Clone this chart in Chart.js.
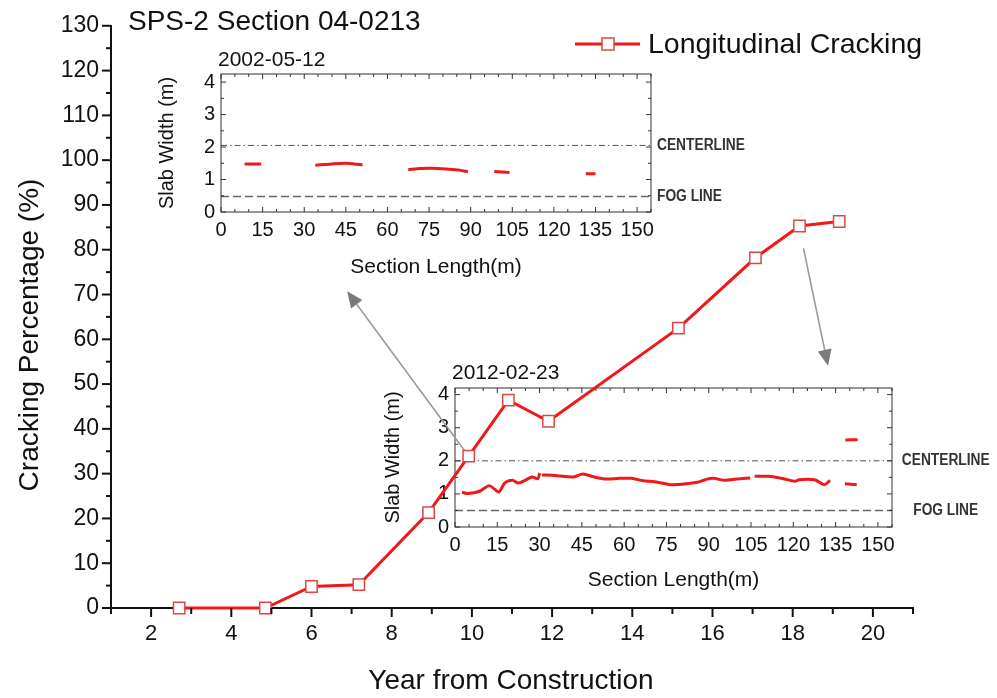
<!DOCTYPE html>
<html>
<head>
<meta charset="utf-8">
<script src="https://cdn.jsdelivr.net/npm/chart.js@4.4.0/dist/chart.umd.min.js"></script>
<style>
  html, body { margin: 0; padding: 0; background: #fff; }
  #wrap { position: relative; width: 997px; height: 698px; overflow: hidden; background: #fff; }
  canvas { position: absolute; }
</style>
</head>
<body>
<div id="wrap">
  <canvas id="inset1" width="620" height="245" style="left:140px;top:40px"></canvas>
  <canvas id="inset2" width="617" height="240" style="left:380px;top:355px"></canvas>
  <canvas id="main" width="997" height="698" style="left:0;top:0"></canvas>
</div>
<script>
// main series: longitudinal cracking vs. age
const years = [2.7, 4.85, 6.0, 7.18, 8.92, 9.92, 10.91, 11.91, 15.15, 17.07, 18.17, 19.16];
const crackPct = [0, 0, 4.8, 5.2, 21.3, 33.9, 46.4, 41.7, 62.5, 78.2, 85.3, 86.3];
const yearTicks = [2, 4, 6, 8, 10, 12, 14, 16, 18, 20];

// arrows from survey points to the crack maps
const arrowFrom = [[9.92, 33.9], [18.27, 80.3]];
const arrowTo = [[6.89, 70.7], [18.88, 54.1]];

// crack map axes
const lengthTicks = [0, 15, 30, 45, 60, 75, 90, 105, 120, 135, 150];
const widthTicks = [0, 1, 2, 3, 4];

// crack map 2002-05-12 (null = break between cracks)
const earlyX = [8.5, 14.5, null, 34, 40, 45, 48, 51, null, 67.5, 72, 76, 82, 86, 89, null, 98.5, 104, null, 131.5, 135];
const earlyY = [1.48, 1.48, null, 1.44, 1.48, 1.50, 1.48, 1.45, null, 1.30, 1.34, 1.35, 1.32, 1.29, 1.24, null, 1.25, 1.22, null, 1.18, 1.18];

// crack map 2012-02-23
const lateX = [2.5, 4.6, 8.7, 12.1, 14.2, 15.6, 17.7, 20.4, 22.5, 25.3, 27.3, 29.4, 30.0, null,
  30.8, 32.2, 36.3, 41.8, 45.3, 49.4, 53.6, 58.4, 62.6, 66.7, 70.8, 76.4, 80.5, 86, 88.8, 91.6, 95.7, 99.9, 104.7, null,
  106.3, 111, 116.5, 120.6, 122, 127.5, 131, 133, null,
  138.3, 142.5, null, 138.5, 142.8];
const lateY = [1.05, 1.01, 1.08, 1.25, 1.13, 1.06, 1.33, 1.41, 1.33, 1.43, 1.51, 1.46, 1.63, null,
  1.57, 1.57, 1.55, 1.51, 1.60, 1.51, 1.45, 1.47, 1.47, 1.40, 1.37, 1.28, 1.29, 1.35, 1.43, 1.47, 1.41, 1.45, 1.48, null,
  1.53, 1.53, 1.46, 1.38, 1.43, 1.43, 1.28, 1.41, null,
  1.31, 1.28, null, 2.63, 2.64];

const earlyCenter = 2.05, earlyFog = 0.48;
const lateCenter = 2.0, lateFog = 0.5;

const FONT = "'Liberation Sans', Arial, sans-serif";
const RED = '#f01818';

function toPoints(xs, ys) {
  return xs.map((x, i) => ({ x: x === null ? xs[i - 1] : x, y: ys[i] }));
}

function seg(ctx, x1, y1, x2, y2) {
  ctx.beginPath(); ctx.moveTo(x1, y1); ctx.lineTo(x2, y2); ctx.stroke();
}

function arrow(ctx, x1, y1, x2, y2) {
  const ang = Math.atan2(y2 - y1, x2 - x1);
  const hl = 16, hw = 7;
  const bx = x2 - hl * Math.cos(ang), by = y2 - hl * Math.sin(ang);
  ctx.strokeStyle = '#9a9a9a'; ctx.lineWidth = 1.6;
  seg(ctx, x1, y1, bx, by);
  ctx.fillStyle = '#7a7a7a';
  ctx.beginPath();
  ctx.moveTo(x2, y2);
  ctx.lineTo(bx + hw * Math.sin(ang), by - hw * Math.cos(ang));
  ctx.lineTo(bx - hw * Math.sin(ang), by + hw * Math.cos(ang));
  ctx.closePath(); ctx.fill();
}

const mainDecor = {
  id: 'mainDecor',
  beforeDatasetsDraw(chart) {
    const { ctx, scales: { x, y } } = chart;
    ctx.save();
    arrowFrom.forEach((p, i) => {
      arrow(ctx, x.getPixelForValue(p[0]), y.getPixelForValue(p[1]),
        x.getPixelForValue(arrowTo[i][0]), y.getPixelForValue(arrowTo[i][1]));
    });
    ctx.restore();
  },
  afterDraw(chart) {
    const { ctx, chartArea: a, scales: { x, y } } = chart;
    ctx.save();
    ctx.strokeStyle = '#111'; ctx.lineWidth = 2;
    for (let v = 1; v <= 21; v++) {
      const px = x.getPixelForValue(v);
      seg(ctx, px, a.bottom, px, a.bottom + (v % 2 === 0 ? 9 : 6));
    }
    for (let v = 0; v <= 130; v += 5) {
      const py = y.getPixelForValue(v);
      seg(ctx, a.left, py, a.left - (v % 10 === 0 ? 9 : 5), py);
    }
    ctx.fillStyle = '#111';
    ctx.textBaseline = 'middle';
    ctx.font = '28px ' + FONT;
    ctx.textAlign = 'left';
    ctx.fillText('SPS-2 Section 04-0213', 128, 22);
    ctx.textAlign = 'center';
    ctx.fillText('Year from Construction', 511, 681);
    ctx.save();
    ctx.translate(30, 335); ctx.rotate(-Math.PI / 2);
    ctx.fillText('Cracking Percentage (%)', 0, 0);
    ctx.restore();
    // legend
    ctx.strokeStyle = RED; ctx.lineWidth = 3;
    seg(ctx, 575, 44, 640, 44);
    ctx.fillStyle = '#fff';
    ctx.fillRect(602, 38, 12, 12);
    ctx.strokeStyle = '#e04545'; ctx.lineWidth = 1.5;
    ctx.strokeRect(602, 38, 12, 12);
    ctx.fillStyle = '#111';
    ctx.textAlign = 'left';
    ctx.font = '28.5px ' + FONT;
    ctx.fillText('Longitudinal Cracking', 648, 45);
    ctx.restore();
  }
};

new Chart(document.getElementById('main'), {
  type: 'line',
  data: {
    datasets: [{
      label: 'Longitudinal Cracking',
      data: toPoints(years, crackPct),
      borderColor: RED,
      borderWidth: 3,
      pointStyle: 'rect',
      pointRadius: 8,
      pointBackgroundColor: '#fff',
      pointBorderColor: '#e04545',
      pointBorderWidth: 1.5,
      tension: 0
    }]
  },
  options: {
    responsive: false,
    animation: false,
    clip: false,
    layout: { padding: { top: 20, right: 84, left: 0, bottom: 0 } },
    plugins: { legend: { display: false }, tooltip: { enabled: false } },
    scales: {
      x: {
        type: 'linear', min: 1, max: 21,
        afterFit: s => { s.height = 90; },
        afterBuildTicks: s => { s.ticks = yearTicks.map(v => ({ value: v })); },
        ticks: { autoSkip: false, maxRotation: 0, padding: 13, color: '#111', font: { family: FONT, size: 22 } },
        grid: { display: false, drawTicks: false },
        border: { display: true, color: '#111', width: 2 }
      },
      y: {
        min: 0, max: 130,
        afterFit: s => { s.width = 111; },
        ticks: { stepSize: 10, padding: 12, color: '#111', font: { family: FONT, size: 23 } },
        grid: { display: false, drawTicks: false },
        border: { display: true, color: '#111', width: 2 }
      }
    }
  },
  plugins: [mainDecor]
});

function insetDecor(o) {
  return {
    id: 'insetDecor',
    afterDraw(chart) {
      const { ctx, chartArea: a, scales: { x, y } } = chart;
      ctx.save();
      ctx.strokeStyle = '#333'; ctx.lineWidth = 1;
      ctx.strokeRect(a.left, a.top, a.right - a.left, a.bottom - a.top);
      for (let v = 0; v <= 155; v += 5) {
        const px = x.getPixelForValue(v);
        const len = v % 15 === 0 ? 5 : 3;
        seg(ctx, px, a.bottom, px, a.bottom - len);
        seg(ctx, px, a.top, px, a.top + len);
      }
      for (let v = 0; v <= 4; v += 0.5) {
        const py = y.getPixelForValue(v);
        const len = v % 1 === 0 ? 5 : 3;
        seg(ctx, a.left, py, a.left + len, py);
        seg(ctx, a.right, py, a.right - len, py);
      }
      ctx.fillStyle = '#111';
      ctx.textBaseline = 'middle';
      ctx.textAlign = 'left';
      ctx.font = '21px ' + FONT;
      ctx.fillText(o.title, a.left - 3, a.top - o.titleGap);
      ctx.textAlign = 'center';
      ctx.fillText('Section Length(m)', (a.left + a.right) / 2, a.bottom + o.xTitleGap);
      ctx.save();
      ctx.translate(a.left - o.yTitleGap, (a.top + a.bottom) / 2);
      ctx.rotate(-Math.PI / 2);
      ctx.font = '20px ' + FONT;
      ctx.fillText('Slab Width (m)', 0, 0);
      ctx.restore();
      ctx.fillStyle = '#333';
      ctx.font = 'bold 16px ' + FONT;
      [['CENTERLINE', o.center], ['FOG LINE', o.fog]].forEach(([txt, v]) => {
        const py = y.getPixelForValue(v);
        ctx.save();
        ctx.translate(a.right + o.labelGap, py);
        ctx.scale(0.86, 1);
        ctx.textAlign = o.labelAlign;
        ctx.fillText(txt, o.labelAlign === 'center' ? 52 : 0, 0);
        ctx.restore();
      });
      ctx.restore();
    }
  };
}

function makeInset(id, xs, ys, center, fog, lay, deco) {
  return new Chart(document.getElementById(id), {
    type: 'line',
    data: {
      datasets: [{
        data: toPoints(xs, ys),
        borderColor: RED, borderWidth: 3, pointRadius: 0, spanGaps: false, tension: 0.3
      }, {
        data: [{ x: 0, y: center }, { x: 155, y: center }],
        borderColor: '#555', borderWidth: 1, borderDash: [6, 3, 1.5, 3], pointRadius: 0
      }, {
        data: [{ x: 0, y: fog }, { x: 155, y: fog }],
        borderColor: '#666', borderWidth: 1.5, borderDash: [8, 4], pointRadius: 0
      }]
    },
    options: {
      responsive: false,
      animation: false,
      layout: { padding: { top: lay.top, right: lay.right, left: 0, bottom: 0 } },
      plugins: { legend: { display: false }, tooltip: { enabled: false } },
      scales: {
        x: {
          type: 'linear', min: 0, max: 155,
          afterFit: s => { s.height = lay.bottom; },
          afterBuildTicks: s => { s.ticks = lengthTicks.map(v => ({ value: v })); },
          ticks: { autoSkip: false, maxRotation: 0, padding: 6, color: '#111', font: { family: FONT, size: 20 } },
          grid: { display: false, drawTicks: false },
          border: { display: false }
        },
        y: {
          min: 0, max: lay.ymax,
          afterFit: s => { s.width = lay.left; },
          afterBuildTicks: s => { s.ticks = widthTicks.map(v => ({ value: v })); },
          ticks: { padding: 6, color: '#111', font: { family: FONT, size: 20 } },
          grid: { display: false, drawTicks: false },
          border: { display: false }
        }
      }
    },
    plugins: [insetDecor(deco)]
  });
}

makeInset('inset1', earlyX, earlyY, earlyCenter, earlyFog,
  { top: 34, right: 109, bottom: 73, left: 81, ymax: 4.25 },
  { title: '2002-05-12', titleGap: 14, xTitleGap: 55, yTitleGap: 54, center: earlyCenter, fog: earlyFog, labelGap: 6, labelAlign: 'left' });

makeInset('inset2', lateX, lateY, lateCenter, lateFog,
  { top: 33, right: 105, bottom: 68, left: 75, ymax: 4.2 },
  { title: '2012-02-23', titleGap: 15, xTitleGap: 53, yTitleGap: 62, center: lateCenter, fog: lateFog, labelGap: 9, labelAlign: 'center' });
</script>
</body>
</html>
